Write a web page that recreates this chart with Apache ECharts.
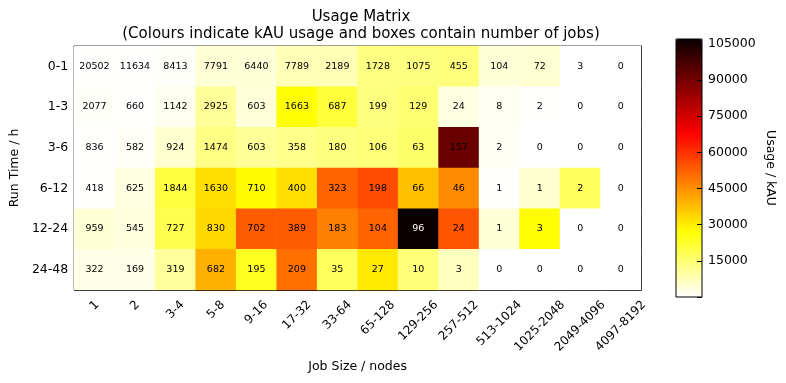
<!DOCTYPE html>
<html><head><meta charset="utf-8">
<script src="https://cdn.jsdelivr.net/npm/echarts@6/dist/echarts.min.js"></script>
<style>html,body{margin:0;padding:0;background:#fff}#c{width:786px;height:383px}</style>
</head><body><div id="c"></div>
<script>
// ---- data ----
const runTimes = ['0-1', '1-3', '3-6', '6-12', '12-24', '24-48'];
const jobSizes = ['1', '2', '3-4', '5-8', '9-16', '17-32', '33-64', '65-128', '129-256', '257-512', '513-1024', '1025-2048', '2049-4096', '4097-8192'];

// number of jobs (box labels), one array per run-time row
const jobs_0_1   = [20502, 11634, 8413, 7791, 6440, 7789, 2189, 1728, 1075, 455, 104, 72, 3, 0];
const jobs_1_3   = [2077, 660, 1142, 2925, 603, 1663, 687, 199, 129, 24, 8, 2, 0, 0];
const jobs_3_6   = [836, 582, 924, 1474, 603, 358, 180, 106, 63, 157, 2, 0, 0, 0];
const jobs_6_12  = [418, 625, 1844, 1630, 710, 400, 323, 198, 66, 46, 1, 1, 2, 0];
const jobs_12_24 = [959, 545, 727, 830, 702, 389, 183, 104, 96, 24, 1, 3, 0, 0];
const jobs_24_48 = [322, 169, 319, 682, 195, 209, 35, 27, 10, 3, 0, 0, 0, 0];

// usage in kAU (cell colours)
const usage_0_1   = [150, 100, 600, 4500, 4200, 7500, 7900, 13300, 13600, 14000, 4200, 4800, 0, 0];
const usage_1_3   = [500, 150, 1600, 10800, 4000, 27000, 21000, 13600, 15200, 3250, 1200, 200, 0, 0];
const usage_3_6   = [200, 700, 5000, 13000, 11000, 12500, 13600, 14400, 16000, 91600, 900, 0, 0, 0];
const usage_6_12  = [100, 3250, 20400, 32200, 27500, 32200, 52000, 55700, 37200, 45500, 100, 5000, 16900, 0];
const usage_12_24 = [4500, 3300, 18700, 33400, 53300, 53300, 47500, 52000, 107000, 54500, 4150, 27200, 0, 0];
const usage_24_48 = [2450, 2450, 10500, 39800, 23800, 50000, 16900, 30800, 14400, 6700, 0, 0, 0, 0];

const colorbarTickStep = 15000;
const usageMin = 0;
const usageMax = 107000;

// ---- build ----
const jobsRows = [jobs_0_1, jobs_1_3, jobs_3_6, jobs_6_12, jobs_12_24, jobs_24_48];
const usageRows = [usage_0_1, usage_1_3, usage_3_6, usage_6_12, usage_12_24, usage_24_48];
const cells = [];
for (let r = 0; r < runTimes.length; r++) {
  for (let c = 0; c < jobSizes.length; c++) {
    const u = usageRows[r][c];
    cells.push({
      value: [c, r, u, jobsRows[r][c]],
      label: { color: u > 0.9 * usageMax ? '#ffffff' : '#000000' }
    });
  }
}

// matplotlib 'hot' reversed colour ramp
function hot(x) {
  const lerp = (pts, v) => {
    for (let i = 0; i < pts.length - 1; i++) {
      const [x0, y0] = pts[i], [x1, y1] = pts[i + 1];
      if (v >= x0 && v <= x1) return y0 + (y1 - y0) * (v - x0) / (x1 - x0);
    }
    return pts[pts.length - 1][1];
  };
  const r = lerp([[0, 0.0416], [0.365079, 1], [1, 1]], x);
  const g = lerp([[0, 0], [0.365079, 0], [0.746032, 1], [1, 1]], x);
  const b = lerp([[0, 0], [0.746032, 0], [1, 1]], x);
  const h = v => Math.round(v * 255).toString(16).padStart(2, '0');
  return '#' + h(r) + h(g) + h(b);
}
const hotR = [];
const N = 128;
for (let i = 0; i <= N; i++) hotR.push(hot(1 - i / N));

const FONT = 'DejaVu Sans';
// rotated x labels centred on their ticks (matplotlib style)
const cv = document.createElement('canvas').getContext('2d');
cv.font = '12px "' + FONT + '"';
const xRich = {};
jobSizes.forEach((s, i) => {
  const L = cv.measureText(s).width;
  xRich['l' + i] = { fontSize: 12, fontFamily: FONT, color: '#000', padding: [L / 2, L / 2, 0, 0] };
});

const chart = echarts.init(document.getElementById('c'), null, { renderer: 'canvas' });
chart.setOption({
  animation: false,
  backgroundColor: '#ffffff',
  textStyle: { fontFamily: FONT },
  title: {
    text: 'Usage Matrix\n(Colours indicate kAU usage and boxes contain number of jobs)',
    left: 356, top: 4, textAlign: 'center',
    textStyle: { fontSize: 15, fontWeight: 'normal', color: '#000', lineHeight: 16.5, fontFamily: FONT }
  },
  grid: [
    { left: 72, top: 46, width: 569, height: 244, show: true, borderColor: '#000', borderWidth: 1, backgroundColor: 'transparent' },
    { left: 676, top: 39, width: 26, height: 258, show: true, borderColor: '#000', borderWidth: 1, backgroundColor: 'transparent', z: 10 }
  ],
  xAxis: [
    {
      type: 'category', gridIndex: 0, data: jobSizes, position: 'bottom',
      axisLine: { show: true, lineStyle: { color: '#000' } },
      axisTick: { show: true, inside: true, alignWithLabel: true, length: 4, lineStyle: { color: '#000' } },
      axisLabel: {
        rotate: 45, align: 'center', verticalAlign: 'middle', margin: 13, interval: 0,
        formatter: (v, i) => '{l' + i + '|' + v + '}', rich: xRich, fontSize: 12, color: '#000'
      },
      splitLine: { show: false },
      name: 'Job Size / nodes', nameLocation: 'middle', nameGap: 69,
      nameTextStyle: { fontSize: 12.5, color: '#000', fontFamily: FONT }
    },
    {
      type: 'category', gridIndex: 0, data: jobSizes, position: 'top',
      axisLine: { show: true, lineStyle: { color: '#000' } },
      axisTick: { show: true, inside: true, alignWithLabel: true, length: 4, lineStyle: { color: '#000' } },
      axisLabel: { show: false }, splitLine: { show: false }
    },
    { type: 'value', gridIndex: 1, min: 0, max: 1, show: false }
  ],
  yAxis: [
    {
      type: 'category', gridIndex: 0, data: runTimes, inverse: true, position: 'left',
      axisLine: { show: true, lineStyle: { color: '#000' } },
      axisTick: { show: true, inside: true, alignWithLabel: true, length: 4, lineStyle: { color: '#000' } },
      axisLabel: { fontSize: 12.5, color: '#000', margin: 6, interval: 0 },
      splitLine: { show: false },
      name: 'Run Time / h', nameLocation: 'middle', nameGap: 49, nameRotate: 90,
      nameTextStyle: { fontSize: 12.5, color: '#000', fontFamily: FONT }
    },
    {
      type: 'category', gridIndex: 0, data: runTimes, inverse: true, position: 'right',
      axisLine: { show: true, lineStyle: { color: '#000' } },
      axisTick: { show: true, inside: true, alignWithLabel: true, length: 4, lineStyle: { color: '#000' } },
      axisLabel: { show: false }, splitLine: { show: false }
    },
    {
      type: 'value', gridIndex: 1, min: usageMin, max: usageMax, interval: colorbarTickStep, position: 'right', z: 10,
      axisLine: { show: false, onZero: false },
      axisTick: { show: true, inside: true, length: 5, lineStyle: { color: '#000' } },
      axisLabel: { fontSize: 12.5, color: '#000', margin: 6, showMaxLabel: false, formatter: v => (v === 0 ? '' : String(v)) },
      splitLine: { show: false },
      name: 'Usage / kAU', nameLocation: 'middle', nameGap: 62, nameRotate: -90,
      nameTextStyle: { fontSize: 12.5, color: '#000', fontFamily: FONT }
    }
  ],
  visualMap: {
    type: 'continuous', min: usageMin, max: usageMax, dimension: 2, seriesIndex: 0,
    orient: 'vertical', left: 676, top: 39, itemWidth: 26, itemHeight: 258,
    calculable: false, showLabel: false, text: null, padding: 0, hoverLink: false,
    inRange: { color: hotR }
  },
  series: [
    {
      type: 'heatmap', xAxisIndex: 0, yAxisIndex: 0, data: cells,
      label: { show: true, fontSize: 9.5, fontFamily: FONT, formatter: p => String(p.value[3]) },
      emphasis: { disabled: true }
    },
    { type: 'scatter', xAxisIndex: 2, yAxisIndex: 2, data: [] }
  ]
});
</script></body></html>
